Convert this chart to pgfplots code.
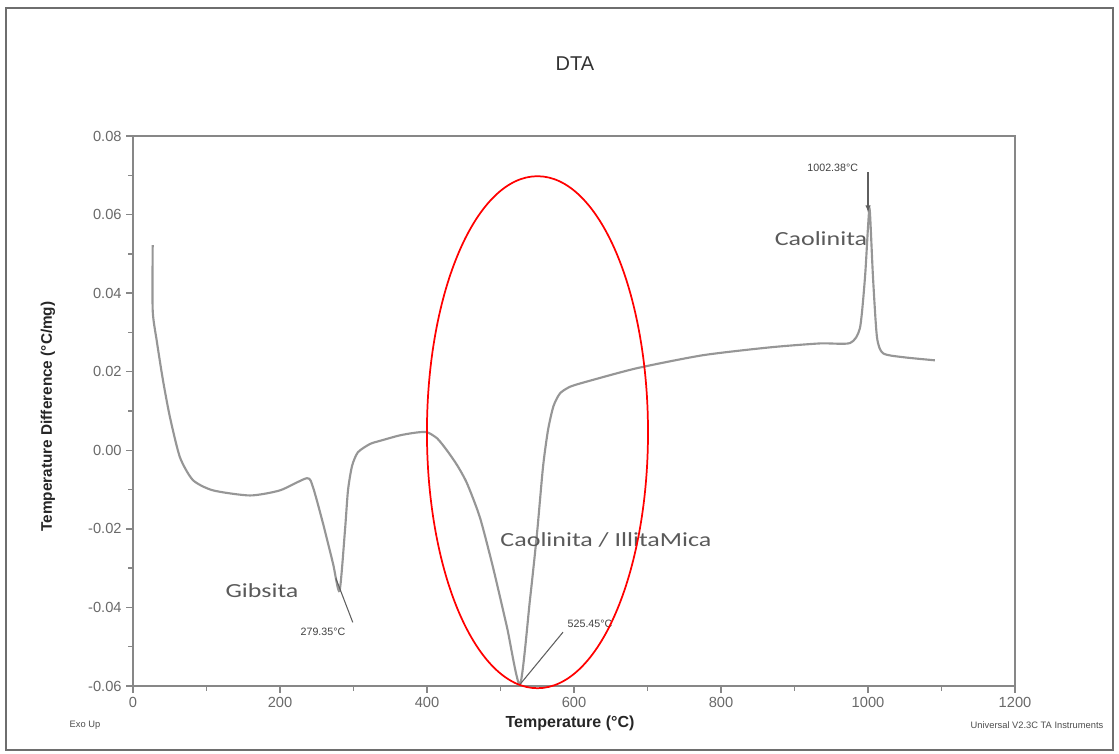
\documentclass[border=0pt]{standalone}
\usepackage{pgfplots}
\pgfplotsset{compat=1.18}
\usepackage{fontspec}
\usepackage{graphicx}
\setmainfont{Liberation Sans}
\newfontfamily\calib{Carlito}
\definecolor{curvegray}{RGB}{150,150,150}
\definecolor{axisgray}{RGB}{135,135,135}
\definecolor{tickgray}{RGB}{105,105,105}
\definecolor{annogray}{RGB}{95,95,95}
\definecolor{labgray}{RGB}{90,90,90}
\begin{document}
\begin{tikzpicture}
\path (-99.75pt,-50.25pt) rectangle (739.5pt,514.5pt);
\draw[color={rgb,255:red,110;green,110;blue,110}, line width=1.8pt] (-95.25pt,-48pt) rectangle (735pt,508.5pt);
\begin{axis}[
  scale only axis,
  width=661.5pt, height=412.5pt,
  xmin=0, xmax=1200, ymin=-0.06, ymax=0.08,
  xtick={0,200,...,1200},
  ytick={-0.06,-0.04,...,0.081},
  minor tick num=1,
  tick pos=left,
  tick align=outside,
  major tick length=5pt,
  minor tick length=3.5pt,
  every tick/.style={axisgray, line width=1pt},
  axis line style={axisgray, line width=1.3pt},
  /pgf/number format/assume math mode=true,
  /pgf/number format/1000 sep={},
  yticklabel style={/pgf/number format/fixed, /pgf/number format/fixed zerofill, /pgf/number format/precision=2},
  scaled y ticks=false,
  tick label style={font=\fontsize{11}{13}\selectfont, text=tickgray},
  xlabel={\textbf{Temperature (°C)}},
  ylabel={\textbf{Temperature Difference (°C/mg)}},
  xlabel style={at={(axis description cs:0.4955,-0.0673)}, anchor=center, font=\fontsize{12}{14}\selectfont, text=black!85},
  ylabel style={at={(axis description cs:-0.0964,0.49)}, anchor=center, font=\fontsize{11.5}{14}\selectfont, text=black!85},
  title={DTA},
  title style={at={(axis description cs:0.501,1.1164)}, anchor=center, font=\fontsize{15}{17}\selectfont, text=black!80},
  clip=false,
]
\addplot[curvegray, line width=1.6pt, smooth, tension=0.4] coordinates {
(26.8,0.0522) (26.8,0.0356) (32.2,0.0280) (40.8,0.0178) (50.3,0.0084)
(63.9,-0.0018) (81.6,-0.0076) (108.8,-0.0102) (159.2,-0.0115) (200,-0.0102)
(236.7,-0.0071) (244.9,-0.0094) (258.5,-0.0186) (272.1,-0.0288) (281.0,-0.0358)
(288.4,-0.0204) (292.5,-0.0102) (298,-0.0040) (306,-0.0005) (322.4,0.0016) (336,0.0024)
(363,0.0038) (385,0.0045) (400,0.0046) (414,0.0030) (427,0.0000) (441,-0.0038) (454.4,-0.0084) (472,-0.0171)
(489.8,-0.0298) (508.8,-0.0450) (526.5,-0.0596) (540,-0.0382) (549.7,-0.0211)
(557.8,-0.0043) (564.6,0.0051) (572,0.0112) (581,0.0145) (595,0.0162) (617.7,0.0175) (685.7,0.0209)
(775.5,0.0242) (866.7,0.0262) (934.7,0.0272) (975.5,0.0273) (989,0.0311)
(995.9,0.0440) (1000,0.0568) (1002.4,0.0611) (1006.8,0.0440) (1012.2,0.0288)
(1020.4,0.0247) (1047.6,0.0237) (1091,0.0229)
};
% annotations
\draw[annogray, line width=0.8pt] (axis cs:276,-0.0326) -- (axis cs:299,-0.0438);
\draw[annogray, line width=0.8pt] (axis cs:526.5,-0.0596) -- (axis cs:585,-0.0463);
\draw[annogray, line width=0.8pt, -latex] (axis cs:1000,0.0708) -- (axis cs:1000,0.0606);
\node[font=\fontsize{8}{9}\selectfont, text=black!75] at (axis cs:258.5,-0.0461) {279.35°C};
\node[font=\fontsize{8}{9}\selectfont, text=black!75] at (axis cs:621.8,-0.0443) {525.45°C};
\node[font=\fontsize{8}{9}\selectfont, text=black!75] at (axis cs:952,0.0720) {1002.38°C};
\node[text=labgray] at (axis cs:175.5,-0.0356) {\calib\fontsize{15}{17}\selectfont\scalebox{1.3}[1]{Gibsita}};
\node[text=labgray] at (axis cs:643.5,-0.0229) {\calib\fontsize{15}{17}\selectfont\scalebox{1.3}[1]{Caolinita / IllitaMica}};
\node[text=labgray] at (axis cs:936,0.0540) {\calib\fontsize{15}{17}\selectfont\scalebox{1.3}[1]{Caolinita}};
\draw[red, line width=1.3pt] (axis cs:550.3,0.0046) ellipse [x radius=82.9pt, y radius=192pt];
\end{axis}
\node[font=\fontsize{7}{8}\selectfont, text=black!70] at (-36pt,-29.25pt) {Exo Up};
\node[font=\fontsize{7}{8}\selectfont, text=black!70, anchor=east] at (731.25pt,-29.25pt) {Universal V2.3C TA Instruments};
\end{tikzpicture}
\end{document}
